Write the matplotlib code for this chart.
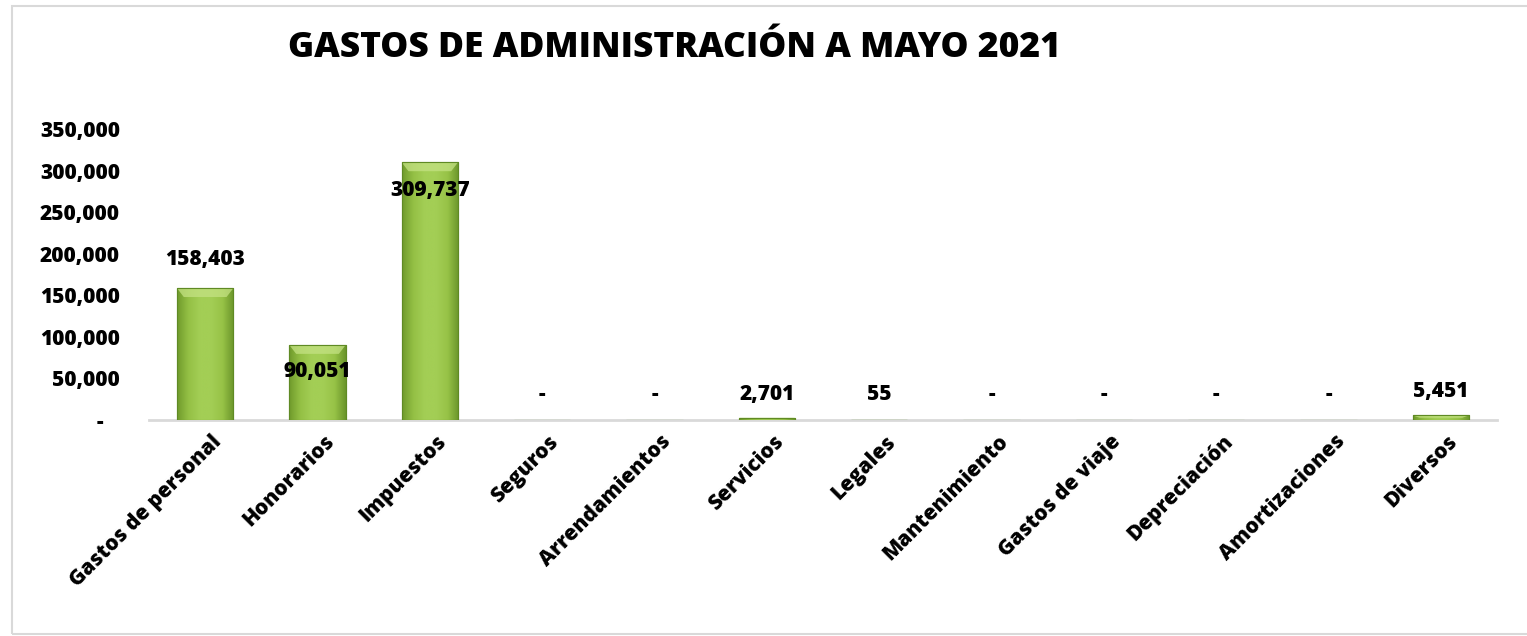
import matplotlib
matplotlib.use("Agg")
import matplotlib.pyplot as plt
import numpy as np
from matplotlib.patches import Rectangle, Polygon
from matplotlib.colors import LinearSegmentedColormap

categories = ["Gastos de personal", "Honorarios", "Impuestos", "Seguros", "Arrendamientos",
              "Servicios", "Legales", "Mantenimiento", "Gastos de viaje", "Depreciación",
              "Amortizaciones", "Diversos"]
values = [158403, 90051, 309737, 0, 0, 2701, 55, 0, 0, 0, 0, 5451]
yticks = [0, 50000, 100000, 150000, 200000, 250000, 300000, 350000]
title = "GASTOS DE ADMINISTRACIÓN A MAYO 2021"

# label offsets in points (style)
label_offsets = [21, -19, -20, 18, 18, 17, 18, 18, 18, 18, 18, 17]

plt.rcParams['font.family'] = ['Open Sans', 'DejaVu Sans']

fig = plt.figure(figsize=(15.27, 6.36), dpi=100)
fig.patch.set_facecolor('white')
fig.patches.append(Rectangle((12/1527, 2/636), 1520/1527, 628/636, transform=fig.transFigure,
                             fill=False, edgecolor='#d9d9d9', linewidth=1.5))

ax = fig.add_axes([149/1527, (636-420)/636, (1497-149)/1527, (420-129)/636])
x = np.arange(len(categories))
width = 0.5
bars = ax.bar(x, values, width=width, color='#9ac64a', edgecolor='#6f9a2e', linewidth=0.8, zorder=3)

cmap = LinearSegmentedColormap.from_list('g', ['#6f9a2b', '#94c045', '#a3ce55', '#a3ce55', '#97c347', '#6a952a'])
grad = np.linspace(0, 1, 256).reshape(1, -1)
for b in bars:
    h = b.get_height()
    if h <= 0:
        continue
    x0 = b.get_x(); w = b.get_width()
    im = ax.imshow(grad, extent=[x0, x0 + w, 0, h], aspect='auto', cmap=cmap, zorder=3.5)
    im.set_clip_path(b)
    bev = min(h * 0.5, 350000 * 0.03)
    inset = w * 0.12
    ax.add_patch(Polygon([(x0, h), (x0 + w, h), (x0 + w - inset, h - bev), (x0 + inset, h - bev)],
                         closed=True, facecolor='#c4e283', alpha=0.75, edgecolor='none', zorder=3.6))
    ax.add_patch(Rectangle((x0, 0), w, h, fill=False, edgecolor='#5f8a24', linewidth=0.8, zorder=3.7))

for xi, v, off in zip(x, values, label_offsets):
    txt = f"{v:,}" if v > 0 else "-"
    ax.annotate(txt, (xi, v), xytext=(0, off), textcoords='offset points',
                ha='center', va='center', fontsize=15, fontweight='heavy', color='black', zorder=5)

ax.set_xlim(-0.5, len(categories) - 0.5)
ax.set_ylim(0, 350000)
ax.set_yticks(yticks)
ax.set_yticklabels([f"{t:,}" if t > 0 else "-   " for t in yticks], fontsize=15, fontweight='heavy')
ax.set_xticks(x)
ax.set_xticklabels([])
for xi, name in zip(x, categories):
    ax.annotate(name, (xi, 0), xycoords=('data', 'axes fraction'), xytext=(4.3, -8),
                textcoords='offset points', rotation=45, ha='right', va='top',
                rotation_mode='anchor', fontsize=15, fontweight='heavy', annotation_clip=False)
ax.tick_params(axis='both', length=0)
ax.tick_params(axis='y', pad=21)
for s in ['top', 'right', 'left']:
    ax.spines[s].set_visible(False)
ax.spines['bottom'].set_color('#d9d9d9')
ax.spines['bottom'].set_linewidth(2)
ax.spines['bottom'].set_zorder(2)

fig.text(674/1527, 1 - 48/636, title, ha='center', va='center', fontsize=25.5, fontweight='heavy')

fig.savefig('out.png', dpi=100)
